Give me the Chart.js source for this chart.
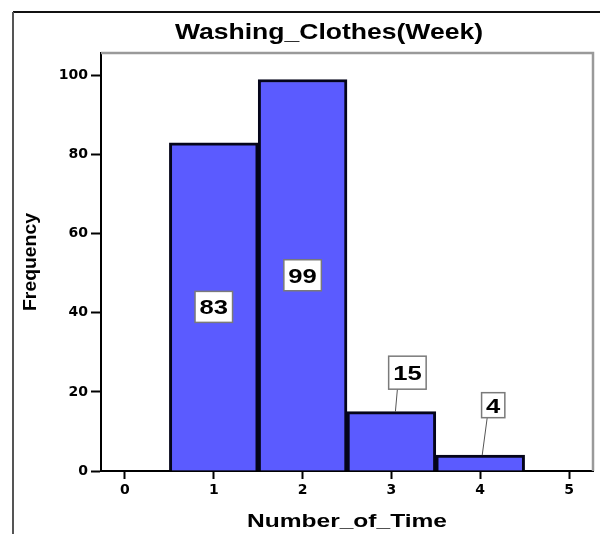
<!DOCTYPE html>
<html>
<head>
<meta charset="utf-8">
<script src="https://cdn.jsdelivr.net/npm/chart.js@4.4.1/dist/chart.umd.min.js"></script>
<style>
    html, body { margin:0; padding:0; background:#ffffff; }
    #canvas__histogram { display:block; }
</style>
</head>
<body>
<canvas id="canvas__histogram" width="600" height="534"></canvas>
<script>
"use strict"

// histogram data
const arrBins = [1, 2, 3, 4];
const arrFrequency = [83, 99, 15, 4];

// tick labels on the two axes
const arrXTicks = [0, 1, 2, 3, 4, 5];
const arrYTicks = [0, 20, 40, 60, 80, 100];

const strTitle = "Washing_Clothes(Week)";
const strXTitle = "Number_of_Time";
const strYTitle = "Frequency";

const COLOR_BAR = "#5b5bff";
const COLOR_BLACK = "#000000";
const FONT_BOLD = "bold {size}px 'Liberation Sans', Arial, sans-serif";

/*
draw text squashed / stretched horizontally so it has the width of the original.
the SPSS export is a little wider than normal Arial.
*/
function drawStretched(ctx, strText, x, y, intSize, intTargetWidth){
    ctx.font = FONT_BOLD.replace("{size}", intSize);
    var w = ctx.measureText(strText).width;
    var sx = intTargetWidth ? intTargetWidth / w : 1.22;
    ctx.save();
    ctx.translate(x, y);
    ctx.scale(sx, 1);
    ctx.textAlign = "center";
    ctx.textBaseline = "alphabetic";
    ctx.fillText(strText, 0, 0);
    ctx.restore();
}

// outer frame, plot frame and the titles
const framePlugin = {
    id: "framePlugin",
    beforeDatasetsDraw: function(chart){
        var ctx = chart.ctx;
        var area = chart.chartArea;
        ctx.save();
        // grey top and right edge of the plot
        ctx.strokeStyle = "#9a9a9a";
        ctx.lineWidth = 2.5;
        ctx.beginPath();
        ctx.moveTo(area.left, area.top);
        ctx.lineTo(area.right, area.top);
        ctx.lineTo(area.right, area.bottom);
        ctx.stroke();
        ctx.restore();
    },
    afterDraw: function(chart){
        var ctx = chart.ctx;
        var area = chart.chartArea;
        ctx.save();
        // outer border of the picture (top and left only)
        ctx.lineWidth = 2;
        ctx.strokeStyle = "#111111";
        ctx.beginPath();
        ctx.moveTo(13, 12);
        ctx.lineTo(600, 12);
        ctx.stroke();
        ctx.strokeStyle = "#555555";
        ctx.beginPath();
        ctx.moveTo(13, 12);
        ctx.lineTo(13, 534);
        ctx.stroke();

        ctx.fillStyle = COLOR_BLACK;
        drawStretched(ctx, strTitle, 329, 39, 22, 308);
        drawStretched(ctx, strXTitle, (area.left + area.right) / 2, 527, 19, 200);

        // y title is rotated
        ctx.save();
        ctx.translate(36, (area.top + area.bottom) / 2);
        ctx.rotate(-Math.PI / 2);
        drawStretched(ctx, strYTitle, 0, 0, 18, 98);
        ctx.restore();
        ctx.restore();
    }
};

// boxed value labels, inside the tall bars, with a leader line for the short ones
const labelPlugin = {
    id: "labelPlugin",
    afterDatasetsDraw: function(chart, args, opts){
        var ctx = chart.ctx;
        var meta = chart.getDatasetMeta(0);
        var yScale = chart.scales.y;
        var arrData = chart.data.datasets[0].data;
        ctx.save();
        meta.data.forEach(function(bar, i){
            var intVal = arrData[i].y;
            var strText = String(intVal);
            var out = opts.outside[i];
            var cx, cy, boxH;
            if(out){
                cx = bar.x + out.dx;
                cy = bar.y + out.dy;
                boxH = out.boxH;
            }else{
                cx = bar.x;
                cy = yScale.getPixelForValue(intVal / 2);
                boxH = 31;
            }
            ctx.font = FONT_BOLD.replace("{size}", 21);
            var textW = ctx.measureText(strText).width * 1.22;
            var boxW = textW + 9;

            if(out){
                // leader line from box down to top of bar
                ctx.strokeStyle = "#555555";
                ctx.lineWidth = 1;
                ctx.beginPath();
                ctx.moveTo(cx - out.lineTop, cy + boxH / 2);
                ctx.lineTo(bar.x + out.lineBottom, bar.y);
                ctx.stroke();
            }

            ctx.fillStyle = "#ffffff";
            ctx.fillRect(cx - boxW / 2, cy - boxH / 2, boxW, boxH);
            ctx.strokeStyle = "#7a7a7a";
            ctx.lineWidth = 1.5;
            ctx.strokeRect(cx - boxW / 2, cy - boxH / 2, boxW, boxH);

            ctx.fillStyle = COLOR_BLACK;
            drawStretched(ctx, strText, cx, cy + 21 * 0.716 / 2, 21, textW);
        });
        ctx.restore();
    }
};

var arrPoints = arrBins.map(function(x, i){ return {x: x, y: arrFrequency[i]}; });

var chart = new Chart("canvas__histogram", {
    type: "bar",
    data: {
        datasets: [{
            data: arrPoints,
            backgroundColor: COLOR_BAR,
            borderColor: "#05051a",
            borderWidth: 3,
            borderSkipped: "start",
            barPercentage: 1,
            categoryPercentage: 1
        }]
    },
    plugins: [framePlugin, labelPlugin],
    options: {
        responsive: false,
        animation: false,
        devicePixelRatio: 1,
        layout: {
            padding: {top: 53, right: 7, left: 0, bottom: 0}
        },
        plugins: {
            legend: {display: false},
            title: {display: false},
            tooltip: {enabled: false},
            labelPlugin: {
                outside: {
                    2: {dx: 16, dy: -39, boxH: 33, lineTop: 10, lineBottom: 4},
                    3: {dx: 13, dy: -50, boxH: 25, lineTop: 6, lineBottom: 2}
                }
            }
        },
        scales: {
            x: {
                type: "linear",
                offset: false,
                min: -0.27,
                max: 5.27,
                afterBuildTicks: function(scale){
                    scale.ticks = arrXTicks.map(function(v){ return {value: v}; });
                },
                afterFit: function(scale){
                    scale.height = 63;
                },
                border: {display: true, color: COLOR_BLACK, width: 2},
                grid: {
                    offset: false,
                    drawOnChartArea: false,
                    drawTicks: true,
                    tickLength: 8,
                    tickColor: COLOR_BLACK,
                    tickWidth: 2
                },
                ticks: {
                    color: COLOR_BLACK,
                    padding: 3,
                    maxRotation: 0,
                    font: {family: "'DejaVu Sans'", size: 14, weight: "bold"}
                }
            },
            y: {
                min: 0,
                max: 105.7,
                afterBuildTicks: function(scale){
                    scale.ticks = arrYTicks.map(function(v){ return {value: v}; });
                },
                afterFit: function(scale){
                    scale.width = 101;
                },
                border: {display: true, color: COLOR_BLACK, width: 2},
                grid: {
                    drawOnChartArea: false,
                    drawTicks: true,
                    tickLength: 10,
                    tickColor: COLOR_BLACK,
                    tickWidth: 2
                },
                ticks: {
                    color: COLOR_BLACK,
                    padding: 3,
                    font: {family: "'DejaVu Sans'", size: 14, weight: "bold"}
                }
            }
        }
    }
});
</script>
</body>
</html>
